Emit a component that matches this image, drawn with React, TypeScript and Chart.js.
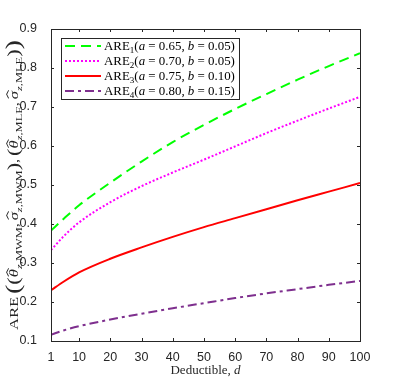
import React, { useEffect, useRef } from 'react';
import { Chart, registerables } from 'chart.js';
Chart.register(...registerables);

const deductible = [1, 5, 10, 20, 30, 40, 50, 60, 70, 80, 90, 100];
const are1 = [0.383, 0.413, 0.448, 0.506, 0.560, 0.610, 0.654, 0.695, 0.733, 0.770, 0.805, 0.838];
const are2 = [0.333, 0.368, 0.404, 0.456, 0.497, 0.532, 0.565, 0.599, 0.633, 0.665, 0.696, 0.726];
const are3 = [0.230, 0.252, 0.276, 0.311, 0.340, 0.367, 0.392, 0.415, 0.438, 0.461, 0.483, 0.505];
const are4 = [0.116, 0.127, 0.138, 0.155, 0.170, 0.184, 0.197, 0.210, 0.222, 0.233, 0.244, 0.254];

const xTicks = [1, 10, 20, 30, 40, 50, 60, 70, 80, 90, 100];
const yTicks = [0.1, 0.2, 0.3, 0.4, 0.5, 0.6, 0.7, 0.8, 0.9];

const legendParams = [
  { n: '1', a: '0.65', b: '0.05' },
  { n: '2', a: '0.70', b: '0.05' },
  { n: '3', a: '0.75', b: '0.10' },
  { n: '4', a: '0.80', b: '0.15' },
];

const styles = [
  { color: '#00ff00', dash: [10, 6] },
  { color: '#ff00ff', dash: [2, 2] },
  { color: '#ff0000', dash: [] as number[] },
  { color: '#7e2f8e', dash: [9, 4, 3, 4] },
];

const SERIF = '"Liberation Serif", "DejaVu Serif", serif';
const SANS = '"Liberation Sans", Arial, sans-serif';
const AXIS = '#262626';

type Seg = { t: string; it?: boolean; sc?: number; dy?: number; hat?: boolean; gap?: boolean };

function segWidth(ctx: CanvasRenderingContext2D, s: Seg, size: number, extra: number) {
  if (s.gap) return extra;
  const fs = size * (s.sc ?? 1);
  ctx.font = `${s.it ? 'italic ' : ''}${fs}px ${SERIF}`;
  return ctx.measureText(s.t).width;
}

function measureRich(ctx: CanvasRenderingContext2D, segs: Seg[], size: number, extra = 0) {
  let w = 0;
  for (const s of segs) w += segWidth(ctx, s, size, extra);
  return w;
}

function drawRich(ctx: CanvasRenderingContext2D, segs: Seg[], x: number, y: number, size: number, extra = 0) {
  let cx = x;
  for (const s of segs) {
    const w = segWidth(ctx, s, size, extra);
    if (!s.gap) {
      const fs = size * (s.sc ?? 1);
      ctx.font = `${s.it ? 'italic ' : ''}${fs}px ${SERIF}`;
      const by = y + (s.dy ?? 0) * size;
      ctx.fillText(s.t, cx, by);
      if (s.hat) {
        ctx.save();
        ctx.strokeStyle = ctx.fillStyle as string;
        ctx.lineWidth = 0.8;
        ctx.beginPath();
        ctx.moveTo(cx + w * 0.1, by - fs * 0.78);
        ctx.lineTo(cx + w * 0.6, by - fs * 0.95);
        ctx.lineTo(cx + w * 1.1, by - fs * 0.78);
        ctx.stroke();
        ctx.restore();
      }
    }
    cx += w;
  }
}

function legendSegs(p: { n: string; a: string; b: string }): Seg[] {
  return [
    { t: 'ARE' },
    { t: p.n, sc: 0.7, dy: 0.25 },
    { t: '(' },
    { t: 'a', it: true },
    { t: ' = ' + p.a + ', ' },
    { t: 'b', it: true },
    { t: ' = ' + p.b + ')' },
  ];
}

function estSegs(sym: string, sub: string): Seg[] {
  return [
    { t: sym, it: true, hat: true },
    { t: 'z', it: true, sc: 0.75, dy: 0.3 },
    { t: ',' + sub, sc: 0.75, dy: 0.3 },
  ];
}

const G: Seg = { t: '', gap: true };

const yTitleSegs: Seg[] = [
  { t: 'ARE' },
  G,
  { t: '(', sc: 1.7, dy: 0.2 },
  { t: '(', sc: 1.35, dy: 0.09 },
  ...estSegs('θ', 'MWM'),
  { t: ',' },
  G,
  ...estSegs('σ', 'MWM'),
  { t: ')', sc: 1.35, dy: 0.09 },
  { t: ',' },
  G,
  { t: '(', sc: 1.35, dy: 0.09 },
  ...estSegs('θ', 'MLE'),
  { t: ',' },
  G,
  ...estSegs('σ', 'MLE'),
  { t: ')', sc: 1.35, dy: 0.09 },
  { t: ')', sc: 1.7, dy: 0.2 },
];

const framePlugin = {
  id: 'frame',
  afterDraw(chart: any) {
    const ctx: CanvasRenderingContext2D = chart.ctx;
    const { left, right, top, bottom } = chart.chartArea;
    const xs = chart.scales.x;
    const ys = chart.scales.y;
    ctx.save();
    ctx.strokeStyle = AXIS;
    ctx.lineWidth = 1;
    ctx.setLineDash([]);
    ctx.strokeRect(Math.round(left) + 0.5, Math.round(top) + 0.5, Math.round(right - left), Math.round(bottom - top));
    const tl = 3;
    ctx.beginPath();
    for (const v of xTicks) {
      const px = Math.round(xs.getPixelForValue(v)) + 0.5;
      ctx.moveTo(px, bottom);
      ctx.lineTo(px, bottom - tl);
      ctx.moveTo(px, top);
      ctx.lineTo(px, top + tl);
    }
    for (const v of yTicks) {
      const py = Math.round(ys.getPixelForValue(v)) + 0.5;
      ctx.moveTo(left, py);
      ctx.lineTo(left + tl, py);
      ctx.moveTo(right, py);
      ctx.lineTo(right - tl, py);
    }
    ctx.stroke();

    // legend
    const bx = left + 10, by = top + 9, bw = 178, bh = 61;
    ctx.fillStyle = '#ffffff';
    ctx.fillRect(bx, by, bw, bh);
    ctx.strokeStyle = '#262626';
    ctx.strokeRect(Math.round(bx) + 0.5, Math.round(by) + 0.5, bw, bh);
    const baseSize = 12;
    const targetW = 131;
    const natW = measureRich(ctx, legendSegs(legendParams[0]), baseSize);
    const lsize = baseSize * targetW / natW;
    legendParams.forEach((p, i) => {
      const cy = by + 8 + i * 15;
      ctx.strokeStyle = styles[i].color;
      ctx.lineWidth = 2;
      ctx.setLineDash(styles[i].dash);
      ctx.beginPath();
      ctx.moveTo(bx + 4, cy);
      ctx.lineTo(bx + 40, cy);
      ctx.stroke();
      ctx.setLineDash([]);
      ctx.fillStyle = '#000000';
      ctx.textBaseline = 'alphabetic';
      ctx.textAlign = 'left';
      drawRich(ctx, legendSegs(p), bx + 43, cy + lsize * 0.33, lsize);
    });

    // x title
    ctx.fillStyle = '#262626';
    const xSegs: Seg[] = [{ t: 'Deductible, ' }, { t: 'd', it: true }];
    const xw = measureRich(ctx, xSegs, 13);
    drawRich(ctx, xSegs, (left + right) / 2 - xw / 2, 374, 13);

    // y title (stretched along its direction to the reference length)
    const gap = 2;
    const ysize = 12;
    const yw = measureRich(ctx, yTitleSegs, ysize, gap);
    const k = 290 / yw;
    ctx.translate(18, 185);
    ctx.rotate(-Math.PI / 2);
    ctx.scale(k, 1);
    drawRich(ctx, yTitleSegs, -yw / 2, 0, ysize, gap);
    ctx.restore();
  },
};

export default function App() {
  const ref = useRef<HTMLCanvasElement>(null);
  useEffect(() => {
    document.body.style.margin = '0';
    const series = [are1, are2, are3, are4];
    const chart = new Chart(ref.current!, {
      type: 'line',
      data: {
        datasets: series.map((s, i) => ({
          label: 'ARE' + legendParams[i].n,
          data: deductible.map((d, j) => ({ x: d, y: s[j] })),
          borderColor: styles[i].color,
          borderDash: styles[i].dash,
          borderWidth: 2,
          pointRadius: 0,
          fill: false,
          cubicInterpolationMode: 'monotone' as const,
        })),
      },
      options: {
        responsive: false,
        animation: false,
        layout: { padding: { left: 0, right: 39, top: 29, bottom: 0 } },
        plugins: { legend: { display: false }, tooltip: { enabled: false } },
        scales: {
          x: {
            type: 'linear',
            min: 1,
            max: 100,
            afterBuildTicks: (sc: any) => { sc.ticks = xTicks.map((v) => ({ value: v })); },
            afterFit: (sc: any) => { sc.height = 43; },
            grid: { display: false },
            border: { display: false },
            ticks: { color: AXIS, font: { family: SANS, size: 12.5 }, padding: 1, maxRotation: 0, autoSkip: false },
          },
          y: {
            type: 'linear',
            min: 0.1,
            max: 0.9,
            afterBuildTicks: (sc: any) => { sc.ticks = yTicks.map((v) => ({ value: v })); },
            afterFit: (sc: any) => { sc.width = 51; },
            grid: { display: false },
            border: { display: false },
            ticks: { color: AXIS, font: { family: SANS, size: 12.5 }, padding: 6, callback: (v: any) => Number(v).toFixed(1) },
          },
        },
      },
      plugins: [framePlugin],
    });
    return () => chart.destroy();
  }, []);
  return <canvas ref={ref} width={399} height={384} style={{ display: 'block' }} />;
}
